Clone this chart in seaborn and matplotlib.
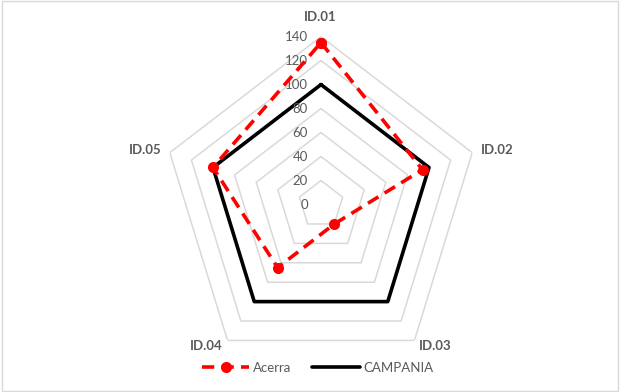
import numpy as np
import matplotlib
matplotlib.use("Agg")
import matplotlib.pyplot as plt
from matplotlib.patches import Rectangle
import seaborn as sns

# Indicator scores, area vs. regional baseline
categories = ["ID.01", "ID.02", "ID.03", "ID.04", "ID.05"]
acerra = [135, 94, 20, 65, 100]
campania = [100, 100, 100, 100, 100]
ring_values = [20, 40, 60, 80, 100, 120, 140]
radial_ticks = [0, 20, 40, 60, 80, 100, 120, 140]

sns.set_theme(style="white")
plt.rcParams["font.family"] = ["Lato", "DejaVu Sans"]

TEXT = "#595959"
GRID = "#d9d9d9"

fig = plt.figure(figsize=(6.2, 3.92), dpi=100)
ax = fig.add_axes([0.2613, 0.0497, 0.5129, 0.857], projection="polar")
ax.set_theta_zero_location("N")
ax.set_theta_direction(-1)
ax.set_aspect("auto")

n = len(categories)
theta = np.linspace(0, 2 * np.pi, n, endpoint=False)
theta_c = np.append(theta, theta[0])

def closed(vals):
    return np.append(np.asarray(vals, dtype=float), vals[0])

# pentagonal grid rings
for rv in ring_values:
    ax.plot(theta_c, closed([rv] * n), color=GRID, lw=1.1, zorder=1)

camp_line, = ax.plot(theta_c, closed(campania), color="black", lw=2.6,
                     label="CAMPANIA", zorder=3)
acer_line, = ax.plot(theta_c, closed(acerra), color="#ff0000", lw=2.6,
                     marker="o", markersize=8, markeredgewidth=0,
                     label="Acerra", zorder=4)
acer_line.set_dashes([3.4, 2.0])

ax.set_ylim(0, 140)
ax.set_xticks([])
ax.set_yticks([])
ax.grid(False)
ax.spines["polar"].set_visible(False)
ax.patch.set_alpha(0)

# radial value labels along the first spoke
for v in radial_ticks:
    ax.annotate(str(v), xy=(0, v), xytext=(-13, 0), textcoords="offset pixels",
                ha="right", va="center", fontsize=9.5, color=TEXT)

# category labels just outside the outer ring
offsets = [(-1, 20), (25, 3), (21, -6), (-21, -6), (-25, 3)]
for t, lab, (dx, dy) in zip(theta, categories, offsets):
    ax.annotate(lab, xy=(t, 140), xytext=(dx, dy), textcoords="offset pixels",
                ha="center", va="center", fontsize=9.5, fontweight="bold",
                color=TEXT, annotation_clip=False)

leg = fig.legend([acer_line, camp_line], ["Acerra", "CAMPANIA"],
                 loc="center", bbox_to_anchor=(0.512, 0.062), ncol=2,
                 frameon=False, fontsize=9.5, handlelength=3.6,
                 handletextpad=0.25, columnspacing=1.6, numpoints=1)
for txt in leg.get_texts():
    txt.set_color(TEXT)

fig.patches.append(Rectangle((0.003, 0.002), 0.994, 0.995, transform=fig.transFigure,
                             fill=False, edgecolor=GRID, lw=1.0))

fig.savefig("out.png", dpi=100, facecolor="white")
